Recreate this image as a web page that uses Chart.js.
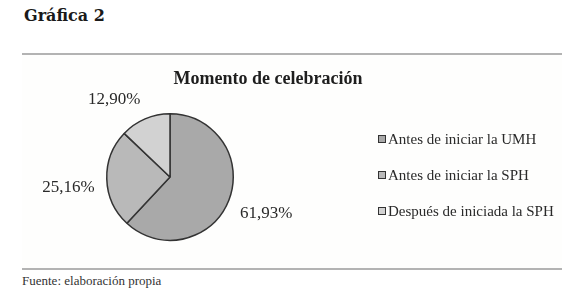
<!DOCTYPE html>
<html>
<head>
<meta charset="utf-8">
<script src="https://cdn.jsdelivr.net/npm/chart.js@4.4.1/dist/chart.umd.min.js"></script>
<style>
  html, body { margin: 0; padding: 0; background: #fff; }
  body { width: 580px; height: 297px; position: relative; overflow: hidden; font-family: "Liberation Serif", serif; color: #222; }
  #heading { position: absolute; left: 24px; top: 6px; font: bold 16px "DejaVu Serif", serif; color: #1a1a1a; }
  #panel { position: absolute; left: 22px; top: 53px; width: 540px; height: 213px; background: #fefefd;
           border-top: 2px solid #b3b3b3; border-bottom: 2px solid #b3b3b3; }
  #title { position: absolute; left: 0; width: 492px; top: 13px; text-align: center; font: bold 18px "Liberation Serif", serif; color: #1e1e1e; }
  #chart-box { position: absolute; left: 0; top: 1px; width: 540px; height: 208px; }
  #legend { position: absolute; left: 356px; top: 66px; }
  .item { height: 36px; display: flex; align-items: center; font-size: 15px; color: #2a2a2a; white-space: nowrap; }
  .item i { display: inline-block; width: 6px; height: 6px; border: 1.5px solid #333; margin-right: 2px; }
  #source { position: absolute; left: 22px; top: 273px; font-size: 13px; color: #333; }
</style>
</head>
<body>
<div id="heading">Gráfica 2</div>
<div id="panel">
  <div id="chart-box"><canvas id="pie"></canvas></div>
  <div id="title">Momento de celebración</div>
  <div id="legend"></div>
</div>
<div id="source">Fuente: elaboración propia</div>
<script>
const categories = ['Antes de iniciar la UMH', 'Antes de iniciar la SPH', 'Después de iniciada la SPH'];
const shares = [61.93, 25.16, 12.90];
const sliceColors = ['#a9a9a9', '#b9b9b9', '#d2d2d2'];

function fmtPct(v) {
  return v.toFixed(2).replace('.', ',') + '%';
}

// percentage labels just outside each slice
const outsideLabels = {
  id: 'outsideLabels',
  afterDatasetsDraw(chart) {
    const ctx = chart.ctx;
    const meta = chart.getDatasetMeta(0);
    ctx.save();
    ctx.font = '17px "Liberation Serif", serif';
    ctx.fillStyle = '#2a2a2a';
    meta.data.forEach((arc, i) => {
      const mid = (arc.startAngle + arc.endAngle) / 2;
      const c = Math.cos(mid), s = Math.sin(mid);
      const d = arc.outerRadius + 12;
      const x = arc.x + c * d, y = arc.y + s * d;
      ctx.textAlign = c > 0.3 ? 'left' : (c < -0.3 ? 'right' : 'center');
      ctx.textBaseline = s >= 0 ? 'top' : (s < -0.3 ? 'bottom' : 'middle');
      ctx.fillText(fmtPct(shares[i]), x, y);
    });
    ctx.restore();
  }
};

const ctx = document.getElementById('pie').getContext('2d');
new Chart(ctx, {
  type: 'pie',
  data: {
    labels: categories,
    datasets: [{
      data: shares,
      backgroundColor: sliceColors,
      borderColor: '#333',
      borderWidth: 1.5
    }]
  },
  options: {
    responsive: true,
    maintainAspectRatio: false,
    animation: false,
    layout: { padding: { left: 84, right: 328, top: 57, bottom: 23 } },
    plugins: {
      legend: { display: false },
      tooltip: { enabled: false }
    }
  },
  plugins: [outsideLabels]
});

// legend
const legend = document.getElementById('legend');
categories.forEach((name, i) => {
  const row = document.createElement('div');
  row.className = 'item';
  const box = document.createElement('i');
  box.style.background = sliceColors[i];
  row.appendChild(box);
  row.appendChild(document.createTextNode(name));
  legend.appendChild(row);
});
</script>
</body>
</html>
